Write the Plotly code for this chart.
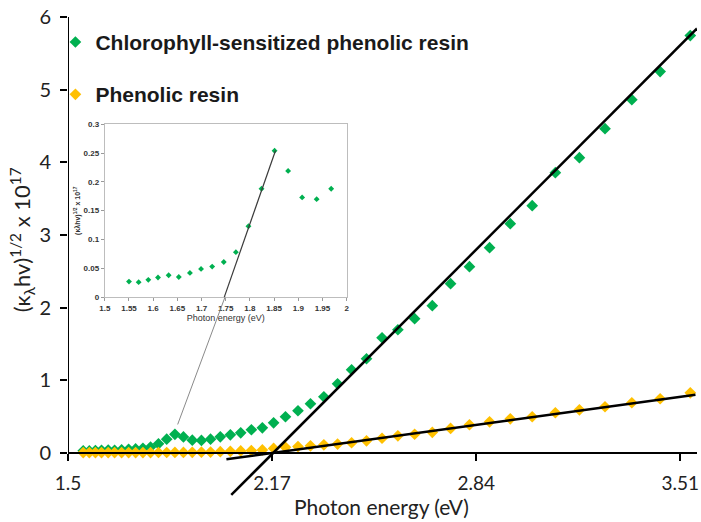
import plotly.graph_objects as go

# Photon energy of each measurement (eV)
energy = [1.550, 1.570, 1.590, 1.610, 1.632, 1.653, 1.676, 1.699, 1.722, 1.746,
          1.771, 1.797, 1.824, 1.851, 1.879, 1.908, 1.938, 1.968, 2.000, 2.033,
          2.067, 2.102, 2.138, 2.175, 2.214, 2.255, 2.296, 2.340, 2.385, 2.431,
          2.480, 2.531, 2.583, 2.638, 2.696, 2.756, 2.818, 2.884, 2.952, 3.024,
          3.100, 3.179, 3.263, 3.351, 3.444, 3.543]

# (k_lambda h nu)^1/2 x 10^17
chlorophyll = [0.027, 0.026, 0.030, 0.034, 0.038, 0.035, 0.042, 0.049, 0.053, 0.061,
               0.078, 0.123, 0.188, 0.254, 0.219, 0.173, 0.170, 0.188, 0.220, 0.248,
               0.275, 0.317, 0.344, 0.413, 0.496, 0.579, 0.675, 0.771, 0.950, 1.143,
               1.295, 1.584, 1.694, 1.846, 2.025, 2.328, 2.562, 2.824, 3.154, 3.402,
               3.857, 4.063, 4.463, 4.862, 5.248, 5.744]

phenolic = [0.003, 0.003, 0.003, 0.003, 0.003, 0.003, 0.003, 0.003, 0.003, 0.003,
            0.003, 0.004, 0.004, 0.005, 0.005, 0.006, 0.008, 0.010, 0.015, 0.020,
            0.025, 0.030, 0.040, 0.060, 0.075, 0.085, 0.096, 0.110, 0.120, 0.138,
            0.165, 0.200, 0.234, 0.255, 0.282, 0.335, 0.386, 0.427, 0.468, 0.496,
            0.551, 0.592, 0.634, 0.689, 0.744, 0.826]

# Tauc linear fits: slope and x-intercept (band gap), drawn over an energy span
green_fit = {"slope": 4.2, "gap": 2.174, "span": [2.036, 3.565]}
orange_fit = {"slope": 0.578, "gap": 2.176, "span": [2.02, 3.56]}

# Inset: zoom on the low-energy part of the chlorophyll series
n_inset = 18
inset_fit = {"slope": 2.4, "gap": 1.747, "span": [1.747, 1.853]}

x_ticks = [1.5, 2.17, 2.84, 3.51]
x_ticktext = ["1.5", "2.17", "2.84", "3.51"]
y_ticks = [0, 1, 2, 3, 4, 5, 6]
inset_xticks = [1.5 + 0.05 * i for i in range(11)]
inset_xtext = ["1.5", "1.55", "1.6", "1.65", "1.7", "1.75", "1.8", "1.85", "1.9", "1.95", "2"]
inset_yticks = [0, 0.05, 0.1, 0.15, 0.2, 0.25, 0.3]
inset_ytext = ["0", "0.05", "0.1", "0.15", "0.2", "0.25", "0.3"]

GREEN = "#00B050"
GOLD = "#FFC000"
Y_RANGE = [-0.65, 6]
X_RANGE = [1.5, 3.565]


def fit_line(f):
    xs = f["span"]
    return xs, [f["slope"] * (x - f["gap"]) for x in xs]


fig = go.Figure()

fig.add_trace(go.Scatter(
    x=energy, y=chlorophyll, mode="markers", name="Chlorophyll-sensitized phenolic resin",
    legendgroup="a", cliponaxis=False,
    marker=dict(symbol="diamond", size=9, color=GREEN),
))
fig.add_trace(go.Scatter(
    x=energy, y=phenolic, mode="markers", name="Phenolic resin",
    legendgroup="b", cliponaxis=False,
    marker=dict(symbol="diamond", size=9, color=GOLD),
))

for f in (green_fit, orange_fit):
    fx, fy = fit_line(f)
    fig.add_trace(go.Scatter(x=fx, y=fy, mode="lines", showlegend=False,
                             line=dict(color="black", width=2.5), cliponaxis=False))

# inset traces
fig.add_trace(go.Scatter(
    x=energy[:n_inset], y=chlorophyll[:n_inset], mode="markers", showlegend=False,
    xaxis="x2", yaxis="y2",
    marker=dict(symbol="diamond", size=4.5, color=GREEN),
))
ix, iy = fit_line(inset_fit)
fig.add_trace(go.Scatter(x=ix, y=iy, mode="lines", showlegend=False,
                         xaxis="x2", yaxis="y2", line=dict(color="#3a3a3a", width=1.2)))

main_font = "Lato, 'Open Sans', sans-serif"
arial = "'Liberation Sans', Arial, sans-serif"

fig.update_layout(
    width=701, height=522,
    margin=dict(l=68, r=1, t=17, b=22),
    paper_bgcolor="white", plot_bgcolor="white",
    xaxis=dict(
        range=X_RANGE, anchor="free", position=(0 - Y_RANGE[0]) / (Y_RANGE[1] - Y_RANGE[0]),
        showline=True, linecolor="black", linewidth=2,
        ticks="outside", ticklen=7, tickwidth=2, tickcolor="black",
        tickvals=x_ticks, ticktext=x_ticktext, ticklabelstandoff=6,
        tickfont=dict(family=main_font, size=19, color="#222"),
        showgrid=False, zeroline=False,
    ),
    yaxis=dict(
        range=Y_RANGE, showline=False,
        ticks="outside", ticklen=7, tickwidth=2, tickcolor="black",
        tickvals=y_ticks, ticklabelstandoff=5,
        tickfont=dict(family=main_font, size=20, color="#222"),
        showgrid=False, zeroline=False,
    ),
    xaxis2=dict(
        domain=[0.0585, 0.443], anchor="y2", range=[1.5, 2],
        showline=True, mirror=True, linecolor="#bdbdbd", linewidth=1,
        ticks="outside", ticklen=3, tickcolor="#9a9a9a",
        tickvals=inset_xticks, ticktext=inset_xtext,
        tickfont=dict(family=arial, size=8, color="#333", weight="bold"),
        title=dict(text="Photon energy (eV)", standoff=2,
                   font=dict(family=arial, size=9, color="#333")),
        showgrid=False, zeroline=False,
    ),
    yaxis2=dict(
        domain=[0.420, 0.778], anchor="x2", range=[0, 0.3],
        showline=True, mirror=True, linecolor="#bdbdbd", linewidth=1,
        ticks="outside", ticklen=3, tickcolor="#9a9a9a",
        tickvals=inset_yticks, ticktext=inset_ytext,
        tickfont=dict(family=arial, size=8, color="#333", weight="bold"),
        title=dict(text="(κλhv)<sup>1/2</sup> x 10<sup>17</sup>", standoff=2,
                   font=dict(family=arial, size=7, color="#333", weight="bold")),
        showgrid=False, zeroline=False,
    ),
    legend=dict(
        x=-0.02, y=0.99, xanchor="left", yanchor="top",
        bgcolor="rgba(0,0,0,0)", traceorder="grouped", tracegroupgap=22,
        itemwidth=30,
        font=dict(family=arial, size=21, color="#1a1a1a", weight="bold"),
    ),
    showlegend=True,
)

# vertical axis line from 0 to 6 only
fig.add_shape(type="line", xref="x", yref="y", x0=1.5, x1=1.5, y0=0, y1=6,
              line=dict(color="black", width=2))

# connector from the main-plot peak to the inset's tangent foot
fig.add_shape(type="line", xref="x", yref="y", x0=1.86, y0=0.39, x1=2.016, y1=2.15,
              line=dict(color="#8a8a8a", width=1))

fig.add_annotation(
    text="Photon energy (eV)", xref="paper", yref="paper",
    x=0.498, y=-0.014, xanchor="center", yanchor="middle", showarrow=False,
    font=dict(family=main_font, size=21, color="#222"),
)
fig.add_annotation(
    text="(κ<sub>λ</sub>hv)<sup>1/2</sup> x 10<sup>17</sup>", xref="paper", yref="paper",
    x=-0.073, y=0.538, xanchor="center", yanchor="middle", showarrow=False, textangle=-90,
    font=dict(family=main_font, size=22, color="#222"),
)

fig.write_html("out.html")
